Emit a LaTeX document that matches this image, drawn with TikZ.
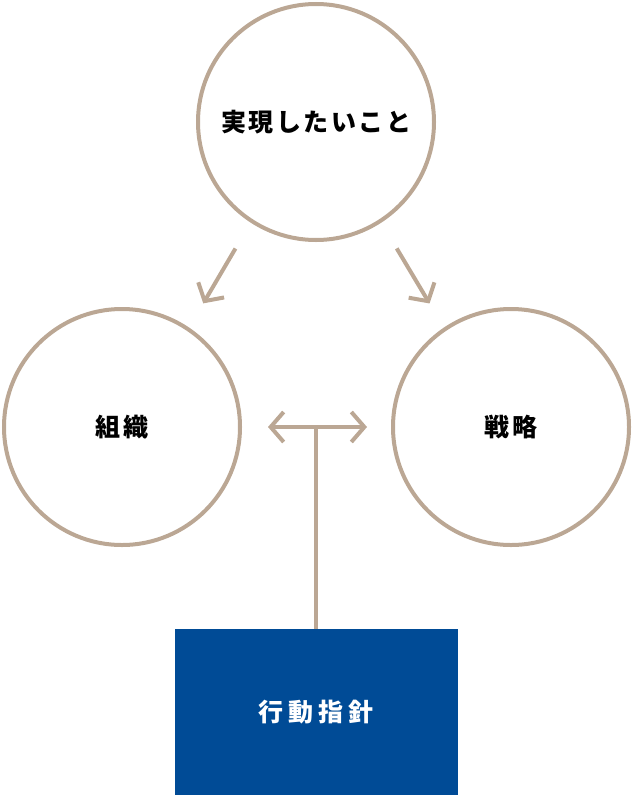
\documentclass[tikz,border=0pt]{standalone}
\usepackage{fontspec}
\usetikzlibrary{arrows.meta}
\newfontfamily\jpfont[LetterSpace=10]{Noto Sans CJK JP}
\newfontfamily\jpwide[LetterSpace=19]{Noto Sans CJK JP}
\definecolor{sand}{RGB}{187,167,148}
\definecolor{navy}{RGB}{0,75,150}

\begin{document}
\begin{tikzpicture}[x=1pt, y=-1pt, font=\jpfont\bfseries\fontsize{25}{30}\selectfont,
    circ/.style={circle, draw=sand, line width=4pt, minimum size=236pt, inner sep=0pt},
    guidebox/.style={rectangle, fill=navy, minimum width=283pt, minimum height=166pt, inner sep=0pt, text=white, font=\jpwide\bfseries\fontsize{25}{30}\selectfont},
    arr/.style={draw=sand, line width=4pt, -{Straight Barb[length=13pt, width=30pt]}},
    both/.style={draw=sand, line width=4pt, {Straight Barb[length=13pt, width=30pt]}-{Straight Barb[length=13pt, width=30pt]}}]
        \useasboundingbox (0,0) rectangle (634,795);

        \node[circ] (goal) at (316,122) {実現したいこと};
        \node[circ] (org) at (122,427) {組織};
        \node[circ] (strat) at (511,427) {戦略};
        \node[guidebox] (guide) at (316,712) {行動指針};
        \coordinate (mid) at (316,427);

        \draw[arr, shorten <=30pt, shorten >=28pt] (goal.237) -- (org.56);
        \draw[arr, shorten <=30pt, shorten >=28pt] (goal.303) -- (strat.124);
        \draw[both, shorten <=26pt, shorten >=24pt] (org.east) -- (strat.west);
        \draw[draw=sand, line width=4pt] (guide.north) -- (mid);

    \end{tikzpicture}
\end{document}
